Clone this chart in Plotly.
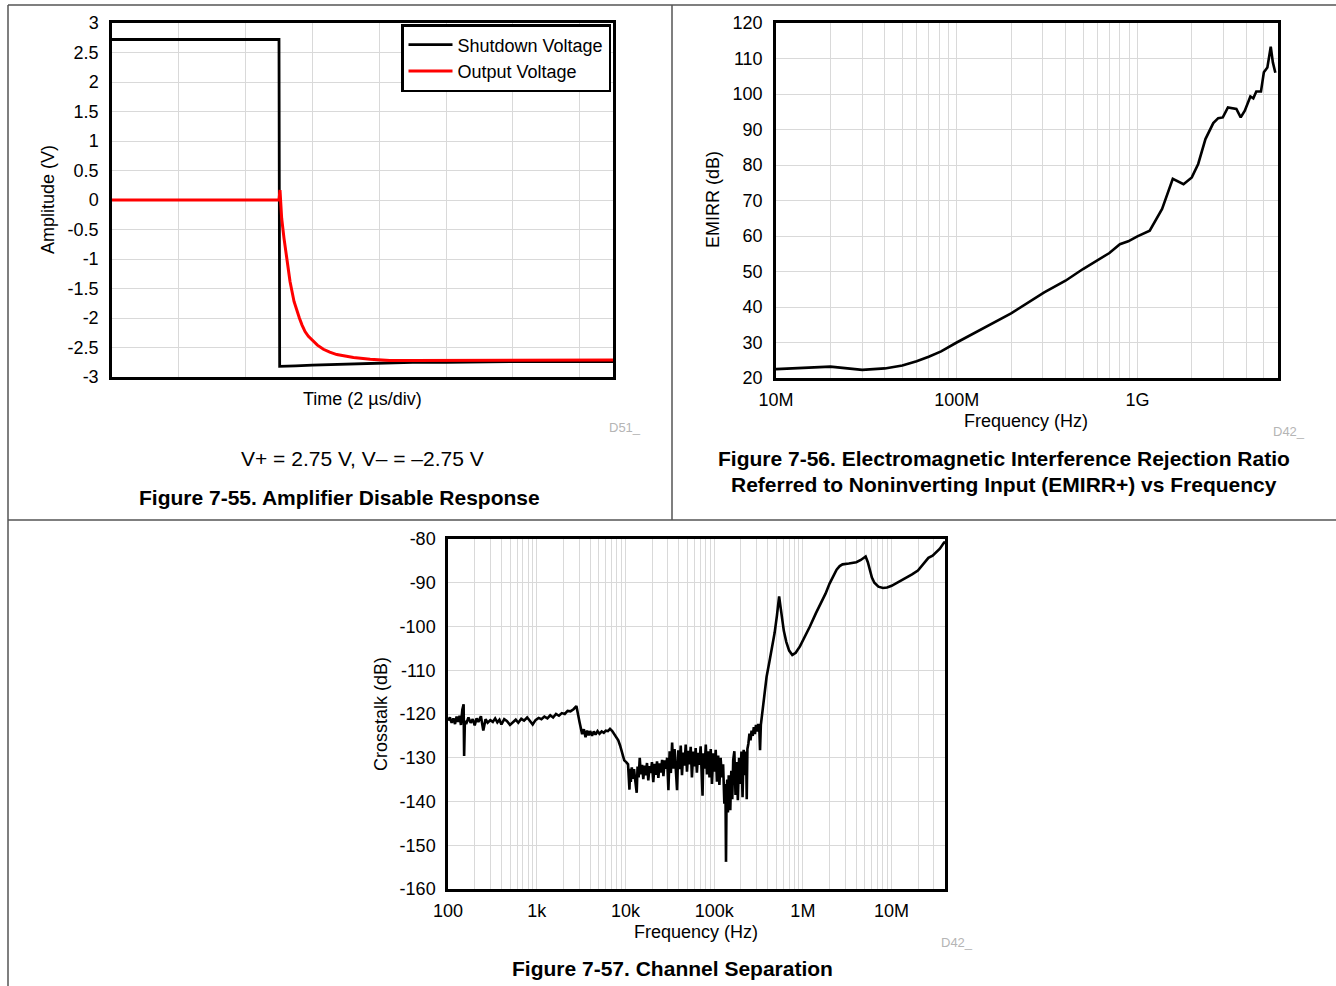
import math
import plotly.graph_objects as go

W, H = 1336, 986


def px(x):
    return x / W


def py(y):
    return 1 - y / H


# ---------------- Figure 7-55: Amplifier disable response ----------------
t_shutdown = [0, 5.0, 5.02, 5.1, 5.5, 6.0, 6.5, 7.0, 7.5, 8.0, 8.5, 9.0, 10.0, 11.0, 12.0, 13.0, 14.0, 15.0]
v_shutdown = [2.72, 2.72, -2.82, -2.82, -2.81, -2.80, -2.79, -2.78, -2.77, -2.76, -2.75, -2.75, -2.75, -2.74, -2.74, -2.74, -2.74, -2.74]

t_output = [0, 5.0, 5.03, 5.08, 5.15, 5.23, 5.33, 5.45, 5.53, 5.61, 5.69, 5.78, 5.88, 6.0, 6.15,
            6.33, 6.52, 6.73, 6.97, 7.23, 7.73, 8.32, 9.0, 10.5, 12.0, 13.5, 15.0]
v_output = [0, 0, 0.17, -0.31, -0.65, -1.0, -1.38, -1.72, -1.88, -2.0, -2.12, -2.23, -2.31, -2.37, -2.46,
            -2.53, -2.58, -2.62, -2.65, -2.67, -2.70, -2.72, -2.72, -2.72, -2.72, -2.71, -2.71]

amp_ticks = [3, 2.5, 2, 1.5, 1, 0.5, 0, -0.5, -1, -1.5, -2, -2.5, -3]
amp_labels = ["3", "2.5", "2", "1.5", "1", "0.5", "0", "-0.5", "-1", "-1.5", "-2", "-2.5", "-3"]

# ---------------- Figure 7-56: EMIRR+ vs frequency ----------------
f_emirr = [1.0e7, 2.0e7, 3.0e7, 4.0e7, 5.0e7, 6.0e7, 7.0e7, 8.2e7, 1.0e8, 1.43e8, 2.0e8, 3.05e8,
           4.0e8, 5.0e8, 5.8e8, 7.0e8, 8.0e8, 8.9e8, 1.0e9, 1.17e9, 1.37e9, 1.57e9, 1.8e9, 2.0e9,
           2.17e9, 2.38e9, 2.63e9, 2.8e9, 2.97e9, 3.17e9, 3.53e9, 3.73e9, 3.93e9, 4.22e9, 4.38e9,
           4.55e9, 4.83e9, 5.01e9, 5.24e9, 5.47e9, 5.62e9, 5.8e9]
emirr_db = [22.5, 23.2, 22.3, 22.7, 23.5, 24.7, 26.0, 27.5, 30.0, 34.3, 38.2, 44.1,
            47.4, 50.7, 52.6, 55.2, 57.7, 58.5, 59.9, 61.5, 67.6, 76.1, 74.6, 76.5,
            80.3, 87.3, 91.8, 93.2, 93.4, 96.2, 95.8, 93.4, 95.3, 99.3, 98.8,
            100.7, 100.7, 106.1, 107.5, 113.3, 108.9, 106.0]

# ---------------- Figure 7-57: Channel separation ----------------
f_xtalk = [
    100, 105, 110, 115, 120, 125, 130, 135, 140, 145, 150, 152, 155, 160, 170, 180, 190, 200,
    210, 220, 235, 250, 265, 280, 300, 320, 340, 360, 380, 400, 430, 460, 500, 540, 580, 620,
    670, 720, 780, 840, 900, 970, 1050, 1130, 1220, 1320, 1420, 1530, 1650, 1780, 1920, 2070,
    2230, 2400, 2600, 2800,
    2900, 3050, 3250, 3400, 3550, 3700, 3850, 4000, 4200, 4400, 4600, 4850, 5100, 5400, 5700,
    6000, 6350, 6700, 7100, 7500, 7900, 8300, 8700, 9200, 9700, 10200, 10700, 11100, 11300,
    11500, 11800, 12100, 12500, 12900, 13400, 13700, 14100, 14500, 14900, 15400, 15900, 16400,
    16900, 17500, 18100, 18700, 19300, 19900, 20600, 21300, 22000, 22700, 23500, 24300, 25100,
    25900, 26800, 27700, 28600, 29500, 30500, 31500, 32500, 33600, 34700,
    35800, 37000, 38200, 39400, 40700, 42000, 43400, 44800, 46300, 47800, 49400, 51000, 52700,
    54400, 56200, 58000, 59900, 61900, 63900, 66000, 68200, 70400, 72700, 74000, 75500, 78000,
    80500, 83100,
    85800, 88600, 91500, 94500, 97600, 100800, 104100, 107500, 111000, 114600, 118300, 122200,
    126200, 130300, 134000, 136000, 138000, 140500, 143000, 146000, 149000, 152000, 156000,
    160000, 164000, 169000, 174000, 179000, 185000, 191000, 197000, 203000, 209000, 215000,
    222000, 229000, 233000, 237000, 243000, 250000, 257000, 264000, 272000, 280000, 288000,
    296000, 305000, 314000, 323000, 329000, 336000, 346000, 360000,
    390000, 420000, 450000, 480000, 510000, 540000, 560000, 580000, 610000, 650000, 700000,
    760000, 830000, 930000, 1050000, 1200000, 1400000, 1570000, 1800000, 2000000, 2200000,
    2400000, 2600000, 2800000, 3300000, 4000000, 4500000, 4800000, 5100000, 5400000, 5700000,
    6000000, 6400000, 7100000, 8000000, 8900000, 10000000, 11400000, 13000000, 14600000,
    17000000, 19800000, 22000000, 24000000, 26000000, 29000000, 32000000, 35000000, 38500000,
    40000000,
]
xtalk_db = [
    -121.5, -120.8, -122.0, -121.0, -122.3, -120.6, -121.8, -120.4, -122.5, -119.0, -117.8, -129.6,
    -121.5, -122.3, -120.8, -122.0, -121.2, -122.6, -121.0, -121.8, -120.5, -123.8, -121.2, -122.0,
    -121.4, -121.8, -121.0, -121.9, -121.3, -122.4, -121.2, -121.6, -122.5, -121.8, -121.3, -122.0,
    -121.1, -121.5, -120.8, -121.6, -122.4, -121.4, -120.9, -121.2, -120.6, -121.0, -120.3, -120.8,
    -120.0, -120.4, -119.8, -120.0, -119.3, -119.4, -118.9, -118.2,
    -119.5, -122.0, -124.6, -123.5, -125.3, -123.8, -124.9, -123.9, -125.0, -124.0, -124.7, -123.9,
    -124.5, -124.0, -124.3, -123.8, -123.9, -123.4, -123.9, -124.6, -125.3, -126.0, -127.2, -129.0,
    -130.6, -131.0, -131.5, -137.3, -132.5,
    -135.5, -132.2, -134.8, -132.6, -135.2, -138.0, -132.0, -134.5, -130.0, -133.8, -131.6, -134.9,
    -131.8, -134.0, -131.2, -135.2, -131.9, -133.5, -131.0, -135.6, -131.4, -133.9, -130.8, -134.6,
    -131.3, -133.4, -130.5, -134.2, -130.6, -132.5, -130.0, -137.4, -128.5, -133.5, -126.5, -132.5,
    -128.0, -133.2, -137.4, -128.3, -132.6, -127.2, -134.0, -128.8, -131.8, -127.0, -133.2, -128.4,
    -131.5, -127.5, -134.5, -128.6, -132.0, -127.8, -133.4, -128.9, -131.6, -127.4, -134.2, -138.7,
    -129.0, -132.5, -127.0, -133.8,
    -128.5, -134.5, -128.0, -136.0, -129.0, -133.2, -128.2, -135.5, -129.5, -136.2, -130.0, -134.5,
    -131.5, -140.5, -136.0, -153.8, -138.5, -135.0, -142.5, -134.0, -140.0, -142.0, -133.0,
    -139.5, -130.5, -128.5, -138.5, -131.0, -139.7, -130.0, -136.0, -128.6, -139.0, -128.2,
    -134.0, -128.6, -139.5, -128.0, -126.8, -124.5, -126.0, -123.8, -125.0, -123.0, -124.6,
    -122.5, -124.0, -122.3, -123.5, -128.3, -122.5, -120.5, -117.6,
    -111.5, -108.0, -105.0, -101.5, -97.5, -93.1, -95.5, -98.0, -101.0, -103.5, -105.5,
    -106.5, -106.0, -104.5, -102.5, -100.0, -97.0, -95.0, -92.5, -90.2, -88.5,
    -87.0, -86.2, -85.8, -85.6, -85.3, -84.8, -84.3, -84.0, -85.3, -87.2,
    -88.8, -90.0, -90.9, -91.2, -91.1, -90.7, -90.1, -89.4, -88.8,
    -88.1, -87.2, -86.0, -85.0, -84.3, -83.8, -83.0, -82.2, -81.0,
    -80.6,
]
xtalk_ticks = [-80, -90, -100, -110, -120, -130, -140, -150, -160]
xtalk_labels = ["-80", "-90", "-100", "-110", "-120", "-130", "-140", "-150", "-160"]

FONT = "Liberation Sans, Arial, Helvetica, sans-serif"
GRID = "#d9d9d9"

fig = go.Figure()
fig.add_trace(go.Scatter(x=t_shutdown, y=v_shutdown, mode="lines", name="Shutdown Voltage",
                         line=dict(color="black", width=2.8), xaxis="x", yaxis="y"))
fig.add_trace(go.Scatter(x=t_output, y=v_output, mode="lines", name="Output Voltage",
                         line=dict(color="#ff0000", width=3), xaxis="x", yaxis="y"))
fig.add_trace(go.Scatter(x=f_emirr, y=emirr_db, mode="lines", showlegend=False,
                         line=dict(color="black", width=2.6), xaxis="x2", yaxis="y2"))
fig.add_trace(go.Scatter(x=f_xtalk, y=xtalk_db, mode="lines", showlegend=False,
                         line=dict(color="black", width=2.6), xaxis="x3", yaxis="y3"))

common = dict(showline=True, linecolor="black", linewidth=2.5, mirror=True, showgrid=True,
              gridcolor=GRID, gridwidth=1, zeroline=False, ticks="",
              tickfont=dict(size=18, color="black", family=FONT))

fig.update_layout(
    width=W, height=H, autosize=False,
    margin=dict(l=0, r=0, t=0, b=0, autoexpand=False),
    paper_bgcolor="white", plot_bgcolor="white",
    font=dict(family=FONT, size=18, color="black"),
    xaxis=dict(domain=[px(112), px(613)], anchor="y", range=[0, 15], dtick=2, tick0=0,
               showticklabels=False, **common),
    yaxis=dict(domain=[py(377), py(23)], anchor="x", range=[-3, 3], tickmode="array",
               tickvals=amp_ticks, ticktext=amp_labels, ticklabelstandoff=7, **common),
    xaxis2=dict(domain=[px(776), px(1278)], anchor="y2", type="log",
                range=[7, math.log10(6e9)], dtick=1, tickformat="~s", ticklabelstandoff=4,
                minor=dict(dtick="D1", showgrid=True, gridcolor=GRID, gridwidth=1, ticks=""),
                **common),
    yaxis2=dict(domain=[py(378), py(23)], anchor="x2", range=[20, 120], dtick=10,
                ticklabelstandoff=7, **common),
    xaxis3=dict(domain=[px(448), px(945)], anchor="y3", type="log",
                range=[2, math.log10(4e7)], dtick=1, tickformat="~s", ticklabelstandoff=4,
                minor=dict(dtick="D1", showgrid=True, gridcolor=GRID, gridwidth=1, ticks=""),
                **common),
    yaxis3=dict(domain=[py(889), py(539)], anchor="x3", range=[-160, -80], tickmode="array",
                tickvals=xtalk_ticks, ticktext=xtalk_labels, ticklabelstandoff=6, **common),
    legend=dict(x=px(401), y=py(24), xanchor="left", yanchor="top", bgcolor="white",
                bordercolor="black", borderwidth=2.5, font=dict(size=18, color="black"),
                itemwidth=44, tracegroupgap=0),
)

# panel frame lines
frame = dict(type="line", xref="paper", yref="paper", line=dict(color="#555555", width=1.5))
fig.add_shape(x0=px(8), x1=1, y0=py(5), y1=py(5), **frame)
fig.add_shape(x0=px(8), x1=px(8), y0=py(5), y1=0, **frame)
fig.add_shape(x0=px(672), x1=px(672), y0=py(5), y1=py(520), **frame)
fig.add_shape(x0=px(8), x1=1, y0=py(520), y1=py(520), **frame)


def label(text, x, y, size=18, color="black", bold=False, angle=0):
    if bold:
        text = "<b>" + text + "</b>"
    fig.add_annotation(text=text, x=px(x), y=py(y), xref="paper", yref="paper",
                       xanchor="center", yanchor="middle", showarrow=False, textangle=angle,
                       font=dict(size=size, color=color, family=FONT))


# Figure 7-55 texts
label("Amplitude (V)", 48, 200, angle=-90)
label("Time (2 µs/div)", 362, 399)
label("D51_", 625, 428, size=13, color="#b5b5b5")
label("V+ = 2.75 V, V– = –2.75 V", 362, 459, size=21)
label("Figure 7-55. Amplifier Disable Response", 339, 497, size=21, bold=True)

# Figure 7-56 texts
label("EMIRR (dB)", 713, 200, angle=-90)
label("Frequency (Hz)", 1026, 421)
label("D42_", 1289, 431, size=13, color="#b5b5b5")
label("Figure 7-56. Electromagnetic Interference Rejection Ratio", 1004, 458, size=21, bold=True)
label("Referred to Noninverting Input (EMIRR+) vs Frequency", 1004, 484, size=21, bold=True)

# Figure 7-57 texts
label("Crosstalk (dB)", 381, 714, angle=-90)
label("Frequency (Hz)", 696, 932)
label("D42_", 957, 942, size=13, color="#b5b5b5")
label("Figure 7-57. Channel Separation", 672, 968, size=21, bold=True)

fig.write_html(
    "out.html",
    config={"displayModeBar": False},
    post_script=(
        "document.documentElement.style.margin='0';document.documentElement.style.padding='0';"
        "document.body.style.margin='0';document.body.style.padding='0';"
        "document.documentElement.style.overflow='hidden';document.body.style.overflow='hidden';"
    ),
)
